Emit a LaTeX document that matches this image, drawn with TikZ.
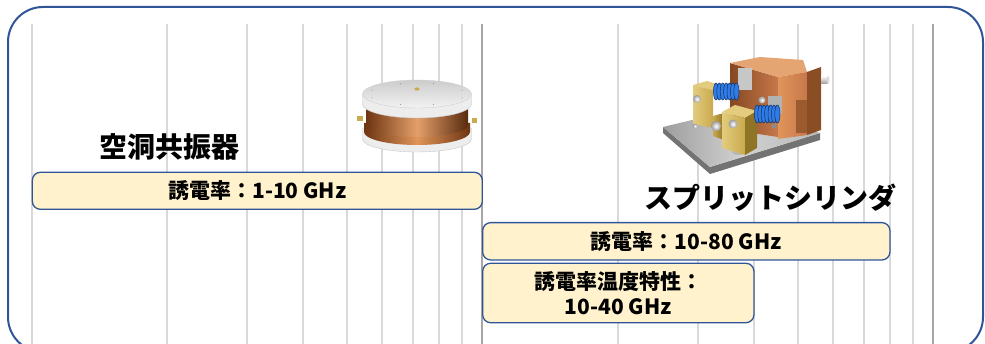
\documentclass[tikz,border=0pt]{standalone}
\usepackage{fontspec}
\newfontfamily\jp{Noto Sans CJK JP}
\definecolor{frameblue}{HTML}{2F5597}
\definecolor{bandfill}{HTML}{FFF2CC}
\definecolor{gridlight}{HTML}{D9D9D9}
\definecolor{griddark}{HTML}{A6A6A6}
\definecolor{copperdark}{HTML}{6E3512}
\definecolor{copperlight}{HTML}{E0955A}
\definecolor{coppermid}{HTML}{C7784A}
\definecolor{brass}{HTML}{C9AA4E}
\definecolor{brasslight}{HTML}{E3CC7E}
\definecolor{brassdark}{HTML}{8F7426}
\definecolor{springblue}{HTML}{2F7BE8}
\definecolor{steel}{HTML}{9A9A9A}
\begin{document}
\begin{tikzpicture}[x=1pt,y=-1pt,
  gridline/.style={draw=gridlight,line width=2pt},
  decade/.style={draw=griddark,line width=2pt},
  rangebox/.style={draw=frameblue,fill=bandfill,line width=1.3pt,rounded corners=8pt,
    inner sep=0pt,align=center,font=\jp\bfseries\fontsize{21}{24.5}\selectfont},
  title/.style={inner sep=0pt,font=\jp\bfseries\fontsize{28}{32}\selectfont},
  whitepart/.style={fill=white!93!black,draw=black!22,line width=0.4pt},
  coil/.style={fill=springblue,draw=springblue!40!black,line width=0.5pt},
  knob/.style={inner color=white,outer color=steel}]
\useasboundingbox (0,0) rectangle (985,344);
\clip (0,0) rectangle (985,344);

% logarithmic frequency grid, 1 GHz to 100 GHz
\foreach \f in {1,2,...,9,20,30,...,90}
  \draw[gridline] ({31.5+451*log10(\f)},24) -- ++(0,340);
\foreach \f in {10,100}
  \draw[decade] ({31.5+451*log10(\f)},24) -- ++(0,340);

% outer frame
\draw[frameblue,line width=2pt,rounded corners=35pt] (8,7) rectangle (983,352);

% cavity resonator
\begin{scope}
  \path[whitepart] (362.5,128) -- (362.5,139) arc[start angle=180,end angle=0,x radius=54.5,y radius=13] -- (471.5,128) -- cycle;
  \shade[left color=copperdark,right color=copperdark,middle color=copperlight]
    (364,123) -- (364,132) arc[start angle=180,end angle=0,x radius=53,y radius=13] -- (470,123) -- cycle;
  \shade[left color=copperdark,right color=copperdark!80!black,middle color=copperlight!90!white]
    (366,104) -- (366,125) arc[start angle=180,end angle=0,x radius=51,y radius=12] -- (468,104) -- cycle;
  \path[whitepart] (362.5,94) -- (362.5,104) arc[start angle=180,end angle=0,x radius=54.5,y radius=14] -- (471.5,94) -- cycle;
  \shade[top color=white!80!black,bottom color=white!95!black,draw=black!18,line width=0.4pt]
    (417,94) ellipse[x radius=54.5,y radius=14];
  \fill[brass] (417,89) ellipse[x radius=2.6,y radius=1.6];
  \foreach \a in {20,70,110,160,200,250,290,340}
    \fill[black!40] ({417+48*cos(\a)},{94+11*sin(\a)}) circle[radius=0.6];
  \fill[brass] (357,116) rectangle (363,121);
  \fill[brass] (471.5,118) rectangle (477,123);
\end{scope}

% split cylinder fixture
\begin{scope}
  % base plate
  \fill[black!55] (663,127) -- (710,167) -- (820,133) -- (820,140) -- (710,174) -- (663,133) -- cycle;
  \shade[left color=black!38,right color=black!28,middle color=black!18]
    (663,127) -- (692,120) -- (805,128) -- (820,133) -- (710,167) -- cycle;
  \fill[black!28] (738,152) ellipse[x radius=6,y radius=3];
  % copper block: back part, top, front and side faces
  \shade[left color=copperdark!80!copperlight,right color=coppermid]
    (730,63) -- (778,77) -- (778,137) -- (745,132) -- (730,112) -- cycle;
  \fill[copperlight!85!white] (730,63) -- (760,57) -- (803,60) -- (807,72) -- (778,77) -- cycle;
  \shade[left color=copperlight,right color=coppermid]
    (778,77) -- (807,72) -- (807,135) -- (778,139) -- cycle;
  \fill[copperdark!75!copperlight] (807,72) -- (821,67) -- (821,130) -- (807,135) -- cycle;
  \fill[copperdark!60!copperlight] (796,100) rectangle (807,133);
  \shade[top color=white,bottom color=steel] (821,76) rectangle (828,84);
  \fill[black!15] (828,80) ellipse[x radius=1.5,y radius=4];
  % silver parts between the copper halves
  \fill[black!22] (738,68) rectangle (752,90);
  \fill[black!30] (768,96) rectangle (782,114);
  \shade[knob] (762,100) circle[radius=3.5];
  \fill[black!45] (774,126) circle[radius=2.5];
  % brass upright and bridge
  \fill[brasslight] (693,85) -- (707,81) -- (720,85) -- (713,90) -- cycle;
  \shade[left color=brasslight,right color=brass] (693,85) -- (713,90) -- (713,128) -- (693,124) -- cycle;
  \shade[left color=brass,right color=brassdark] (713,116) -- (724,113) -- (724,140) -- (713,136) -- cycle;
  % upper spring
  \foreach \i in {0,...,6}
    \path[coil] ({716+3.4*\i},91.5) ellipse[x radius=2.6,y radius=8.5];
  % brass front block
  \fill[brasslight] (722,112) -- (735,105) -- (757,111) -- (745,118) -- cycle;
  \shade[left color=brasslight,right color=brass] (722,112) -- (745,118) -- (745,155) -- (722,148) -- cycle;
  \fill[brassdark] (745,118) -- (757,111) -- (757,148) -- (745,155) -- cycle;
  % lower spring
  \foreach \i in {0,...,6}
    \path[coil] ({757+3.4*\i},114) ellipse[x radius=2.6,y radius=9];
  % knobs
  \shade[knob] (697,99) circle[radius=4];
  \shade[knob] (716,126) circle[radius=5];
  \shade[knob] (733,124) circle[radius=4.5];
  \shade[knob] (695,126) circle[radius=2.5];
\end{scope}

% method titles
\node[title] (cavity) at (169,147) {空洞共振器};
\node[title] (splitcyl) at (770,198) {スプリットシリンダ};

% measurable frequency ranges
\node[rangebox,minimum width=450,minimum height=37] (r1) at (257.3,190.8) {誘電率：1-10 GHz};
\node[rangebox,minimum width=407.3,minimum height=37.3] (r2) at (686.3,241.3) {誘電率：10-80 GHz};
\node[rangebox,minimum width=271.3,minimum height=59.4] (r3) at (618.3,293) {誘電率温度特性：\\10-40 GHz};
\end{tikzpicture}
\end{document}
